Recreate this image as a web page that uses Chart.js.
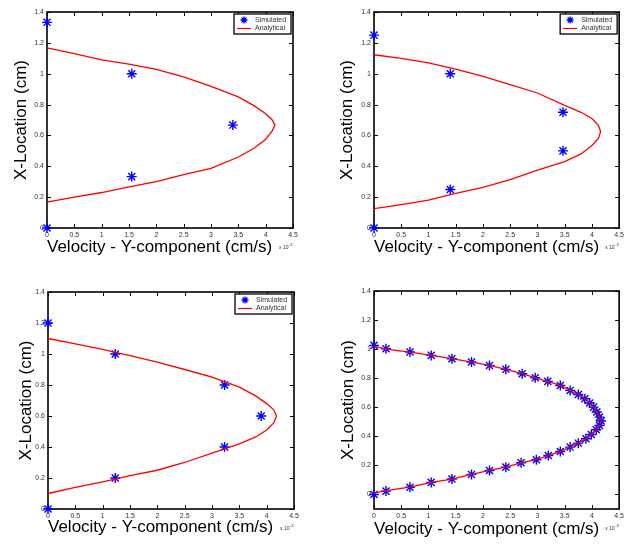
<!DOCTYPE html>
<html>
<head>
<meta charset="utf-8">
<script src="https://cdn.jsdelivr.net/npm/chart.js@4.4.1/dist/chart.umd.min.js"></script>
<style>
  body { margin: 0; background: #fff; }
  #figure { position: relative; width: 627px; height: 545px; overflow: hidden; }
  #figure canvas { position: absolute; }
</style>
</head>
<body>
<div id="figure">
  <canvas id="c1" width="313" height="272"></canvas>
  <canvas id="c2" width="300" height="272"></canvas>
  <canvas id="c3" width="313" height="273"></canvas>
  <canvas id="c4" width="300" height="273"></canvas>
</div>
<script>
// tick labels (velocity is in units of 1e-3 cm/s)
const velocityTicks = [0, 0.5, 1, 1.5, 2, 2.5, 3, 3.5, 4, 4.5];
const locationTicks = [0, 0.2, 0.4, 0.6, 0.8, 1, 1.2, 1.4];

// panel 1 (top left)
const sim1V = [0, 1.55, 3.4, 1.55, 0];
const sim1X = [1.333, 1.0, 0.667, 0.333, 0];
const ana1V = [0, 0.5, 1, 1.5, 2, 2.5, 3, 3.5, 3.8, 4.0, 4.12, 4.17, 4.12, 4.0, 3.8, 3.5, 3, 2.5, 2, 1.5, 1, 0.5, 0];
const ana1X = [1.167, 1.13, 1.09, 1.062, 1.028, 0.979, 0.918, 0.85, 0.79, 0.74, 0.70, 0.667, 0.63, 0.575, 0.52, 0.46, 0.387, 0.346, 0.3, 0.266, 0.23, 0.2, 0.167];

// panel 2 (top right)
const sim2V = [0, 1.4, 3.47, 3.47, 1.4, 0];
const sim2X = [1.25, 1.0, 0.75, 0.5, 0.25, 0];
const ana2V = [0, 0.5, 1, 1.5, 2, 2.5, 3, 3.5, 3.8, 4.0, 4.12, 4.16, 4.12, 4.0, 3.8, 3.5, 3, 2.5, 2, 1.5, 1, 0.5, 0];
const ana2X = [1.123, 1.1, 1.07, 1.03, 0.983, 0.929, 0.875, 0.795, 0.75, 0.71, 0.665, 0.625, 0.58, 0.535, 0.48, 0.43, 0.375, 0.313, 0.264, 0.225, 0.18, 0.152, 0.125];

// panel 3 (bottom left)
const sim3V = [0, 1.23, 3.23, 3.9, 3.23, 1.23, 0];
const sim3X = [1.2, 1.0, 0.8, 0.6, 0.4, 0.2, 0];
const ana3V = [0, 0.5, 1, 1.5, 2, 2.5, 3, 3.5, 3.8, 4.0, 4.13, 4.18, 4.13, 4.0, 3.8, 3.5, 3, 2.5, 2, 1.5, 1, 0.5, 0];
const ana3X = [1.1, 1.065, 1.03, 0.99, 0.948, 0.9, 0.851, 0.786, 0.73, 0.68, 0.64, 0.6, 0.555, 0.51, 0.465, 0.42, 0.36, 0.3, 0.25, 0.215, 0.175, 0.14, 0.1];

// panel 4 (bottom right)
const sim4V = [0, 0.22, 0.66, 1.05, 1.43, 1.79, 2.12, 2.42, 2.7, 2.98, 3.2, 3.42, 3.6, 3.75, 3.89, 3.99, 4.08, 4.14, 4.17,
               4.14, 4.09, 4.03, 3.96, 3.87, 3.75, 3.6, 3.42, 3.19, 2.96, 2.72, 2.42, 2.12, 1.79, 1.43, 1.05, 0.66, 0.22, 0];
const sim4X = [0, 0.023, 0.05, 0.083, 0.106, 0.138, 0.165, 0.188, 0.218, 0.239, 0.268, 0.296, 0.326, 0.353, 0.383, 0.413, 0.445, 0.475, 0.505,
               0.532, 0.567, 0.601, 0.629, 0.659, 0.688, 0.716, 0.75, 0.778, 0.803, 0.831, 0.861, 0.888, 0.911, 0.934, 0.957, 0.98, 1.003, 1.026];
const ana4V = [0, 0.22, 0.66, 1.05, 1.43, 1.79, 2.12, 2.42, 2.7, 2.98, 3.2, 3.42, 3.6, 3.75, 3.89, 3.99, 4.08, 4.14, 4.17,
               4.14, 4.09, 4.03, 3.96, 3.87, 3.75, 3.6, 3.42, 3.19, 2.96, 2.72, 2.42, 2.12, 1.79, 1.43, 1.05, 0.66, 0.22, 0];
const ana4X = [0.01, 0.026, 0.05, 0.083, 0.106, 0.138, 0.165, 0.188, 0.218, 0.239, 0.268, 0.296, 0.326, 0.353, 0.383, 0.413, 0.445, 0.475, 0.505,
               0.532, 0.567, 0.601, 0.629, 0.659, 0.688, 0.716, 0.75, 0.778, 0.803, 0.831, 0.861, 0.888, 0.911, 0.934, 0.957, 0.98, 1.0, 1.02];

const FONT = "'Liberation Sans', Arial, sans-serif";

// where each panel sits on the page
const panels = [
  { id: 'c1', left: 0,   top: 0,   w: 313, h: 272, plot: [47, 12, 293, 228],  yTitleX: 21,  xTitleY: 247, yMin: 0,    legend: true,
    simV: sim1V, simX: sim1X, anaV: ana1V, anaX: ana1X },
  { id: 'c2', left: 327, top: 0,   w: 300, h: 272, plot: [374, 12, 622, 228], yTitleX: 347, xTitleY: 247, yMin: 0,    legend: true,
    simV: sim2V, simX: sim2X, anaV: ana2V, anaX: ana2X },
  { id: 'c3', left: 0,   top: 272, w: 313, h: 273, plot: [48, 292, 294, 509], yTitleX: 26,  xTitleY: 527, yMin: 0,    legend: true,
    simV: sim3V, simX: sim3X, anaV: ana3V, anaX: ana3X },
  { id: 'c4', left: 327, top: 272, w: 300, h: 273, plot: [374, 291, 623, 509], yTitleX: 348, xTitleY: 529, yMin: -0.1, legend: false,
    simV: sim4V, simX: sim4X, anaV: ana4V, anaX: ana4X }
];

function drawStar(ctx, x, y, r) {
  const d = r * Math.SQRT1_2;
  ctx.beginPath();
  ctx.moveTo(x - r, y); ctx.lineTo(x + r, y);
  ctx.moveTo(x, y - r); ctx.lineTo(x, y + r);
  ctx.moveTo(x - d, y - d); ctx.lineTo(x + d, y + d);
  ctx.moveTo(x - d, y + d); ctx.lineTo(x + d, y - d);
  ctx.stroke();
}

// box around the axes, inward ticks, legend and the x 10^-3 note
const framePlugin = {
  id: 'panelFrame',
  beforeDatasetsDraw(chart) {
    const { ctx, chartArea: a, scales: { x, y } } = chart;
    ctx.save();
    ctx.strokeStyle = '#000';
    ctx.lineWidth = 1;
    ctx.beginPath();
    x.ticks.forEach(t => {
      const px = Math.round(x.getPixelForValue(t.value)) + 0.5;
      ctx.moveTo(px, a.bottom); ctx.lineTo(px, a.bottom - 4);
      ctx.moveTo(px, a.top); ctx.lineTo(px, a.top + 4);
    });
    y.ticks.forEach(t => {
      const py = Math.round(y.getPixelForValue(t.value)) + 0.5;
      ctx.moveTo(a.left, py); ctx.lineTo(a.left + 4, py);
      ctx.moveTo(a.right, py); ctx.lineTo(a.right - 4, py);
    });
    ctx.stroke();
    ctx.lineWidth = 1.6;
    ctx.strokeRect(a.left, a.top, a.right - a.left, a.bottom - a.top);
    ctx.restore();
  },
  afterDraw(chart, args, opts) {
    const { ctx, chartArea: a } = chart;
    const sim = chart.data.datasets[0];
    const ana = chart.data.datasets[1];
    ctx.save();
    if (opts.legend) {
      const bx = a.right - 59, by = a.top + 2, bw = 57, bh = 20;
      ctx.fillStyle = '#fff';
      ctx.fillRect(bx, by, bw, bh);
      ctx.strokeStyle = '#000';
      ctx.lineWidth = 1.3;
      ctx.strokeRect(bx, by, bw, bh);
      ctx.strokeStyle = sim.borderColor;
      ctx.lineWidth = 1.3;
      drawStar(ctx, bx + 10, by + 6, 3.5);
      ctx.strokeStyle = ana.borderColor;
      ctx.lineWidth = 1.2;
      ctx.beginPath();
      ctx.moveTo(bx + 3, by + 14.5); ctx.lineTo(bx + 17, by + 14.5);
      ctx.stroke();
      ctx.fillStyle = '#333';
      ctx.font = '7px ' + FONT;
      ctx.textBaseline = 'middle';
      ctx.fillText(sim.label, bx + 21, by + 6);
      ctx.fillText(ana.label, bx + 21, by + 14.5);
    }
    // exponent note under the right end of the x axis
    ctx.fillStyle = '#333';
    ctx.textBaseline = 'alphabetic';
    ctx.font = '5px ' + FONT;
    const ex = a.right - 14, ey = a.bottom + 21;
    ctx.fillText('x 10', ex, ey);
    ctx.font = '4px ' + FONT;
    ctx.fillText('-3', ex + 10, ey - 3);
    ctx.restore();
  }
};

function makeChart(p) {
  const canvas = document.getElementById(p.id);
  canvas.style.left = p.left + 'px';
  canvas.style.top = p.top + 'px';
  const toPoints = (vs, xs) => vs.map((v, i) => ({ x: v, y: xs[i] }));
  const titleHalf = 17 * 1.2 / 2;
  const tickFont = { size: 7, family: FONT };

  return new Chart(canvas, {
    type: 'scatter',
    data: {
      datasets: [
        {
          label: 'Simulated',
          data: toPoints(p.simV, p.simX),
          showLine: false,
          pointStyle: 'star',
          pointRadius: 5,
          borderColor: '#0000ff',
          backgroundColor: '#0000ff',
          borderWidth: 1.4,
          clip: false,
          order: 1
        },
        {
          label: 'Analytical',
          data: toPoints(p.anaV, p.anaX),
          showLine: true,
          pointRadius: 0,
          borderColor: '#ff0000',
          borderWidth: 1.3,
          fill: false,
          tension: 0,
          clip: false,
          order: 0
        }
      ]
    },
    options: {
      responsive: false,
      animation: false,
      devicePixelRatio: 1,
      layout: {
        padding: { left: 0, top: p.plot[1] - p.top, right: p.left + p.w - p.plot[2], bottom: 0 }
      },
      plugins: {
        legend: { display: false },
        tooltip: { enabled: false },
        panelFrame: { legend: p.legend }
      },
      scales: {
        x: {
          type: 'linear',
          min: 0,
          max: 4.5,
          afterBuildTicks: s => { s.ticks = velocityTicks.map(v => ({ value: v })); },
          afterFit: s => { s.height = p.top + p.h - p.plot[3]; },
          grid: { display: false, drawTicks: false },
          border: { display: false },
          ticks: { padding: 3, font: tickFont, color: '#333', maxRotation: 0, autoSkip: false, callback: v => String(v) },
          title: {
            display: true,
            text: 'Velocity - Y-component (cm/s)',
            align: 'start',
            color: '#000',
            font: { size: 17, family: FONT },
            padding: { top: 0, bottom: (p.top + p.h) - p.xTitleY - titleHalf }
          }
        },
        y: {
          type: 'linear',
          min: p.yMin,
          max: 1.4,
          afterBuildTicks: s => { s.ticks = locationTicks.map(v => ({ value: v })); },
          afterFit: s => { s.width = p.plot[0] - p.left; },
          grid: { display: false, drawTicks: false },
          border: { display: false },
          ticks: { padding: 3, font: tickFont, color: '#333', autoSkip: false, callback: v => String(v) },
          title: {
            display: true,
            text: 'X-Location (cm)',
            color: '#000',
            font: { size: 17, family: FONT },
            padding: { top: p.yTitleX - p.left - titleHalf, bottom: 0 }
          }
        }
      }
    },
    plugins: [framePlugin]
  });
}

panels.forEach(makeChart);
</script>
</body>
</html>
